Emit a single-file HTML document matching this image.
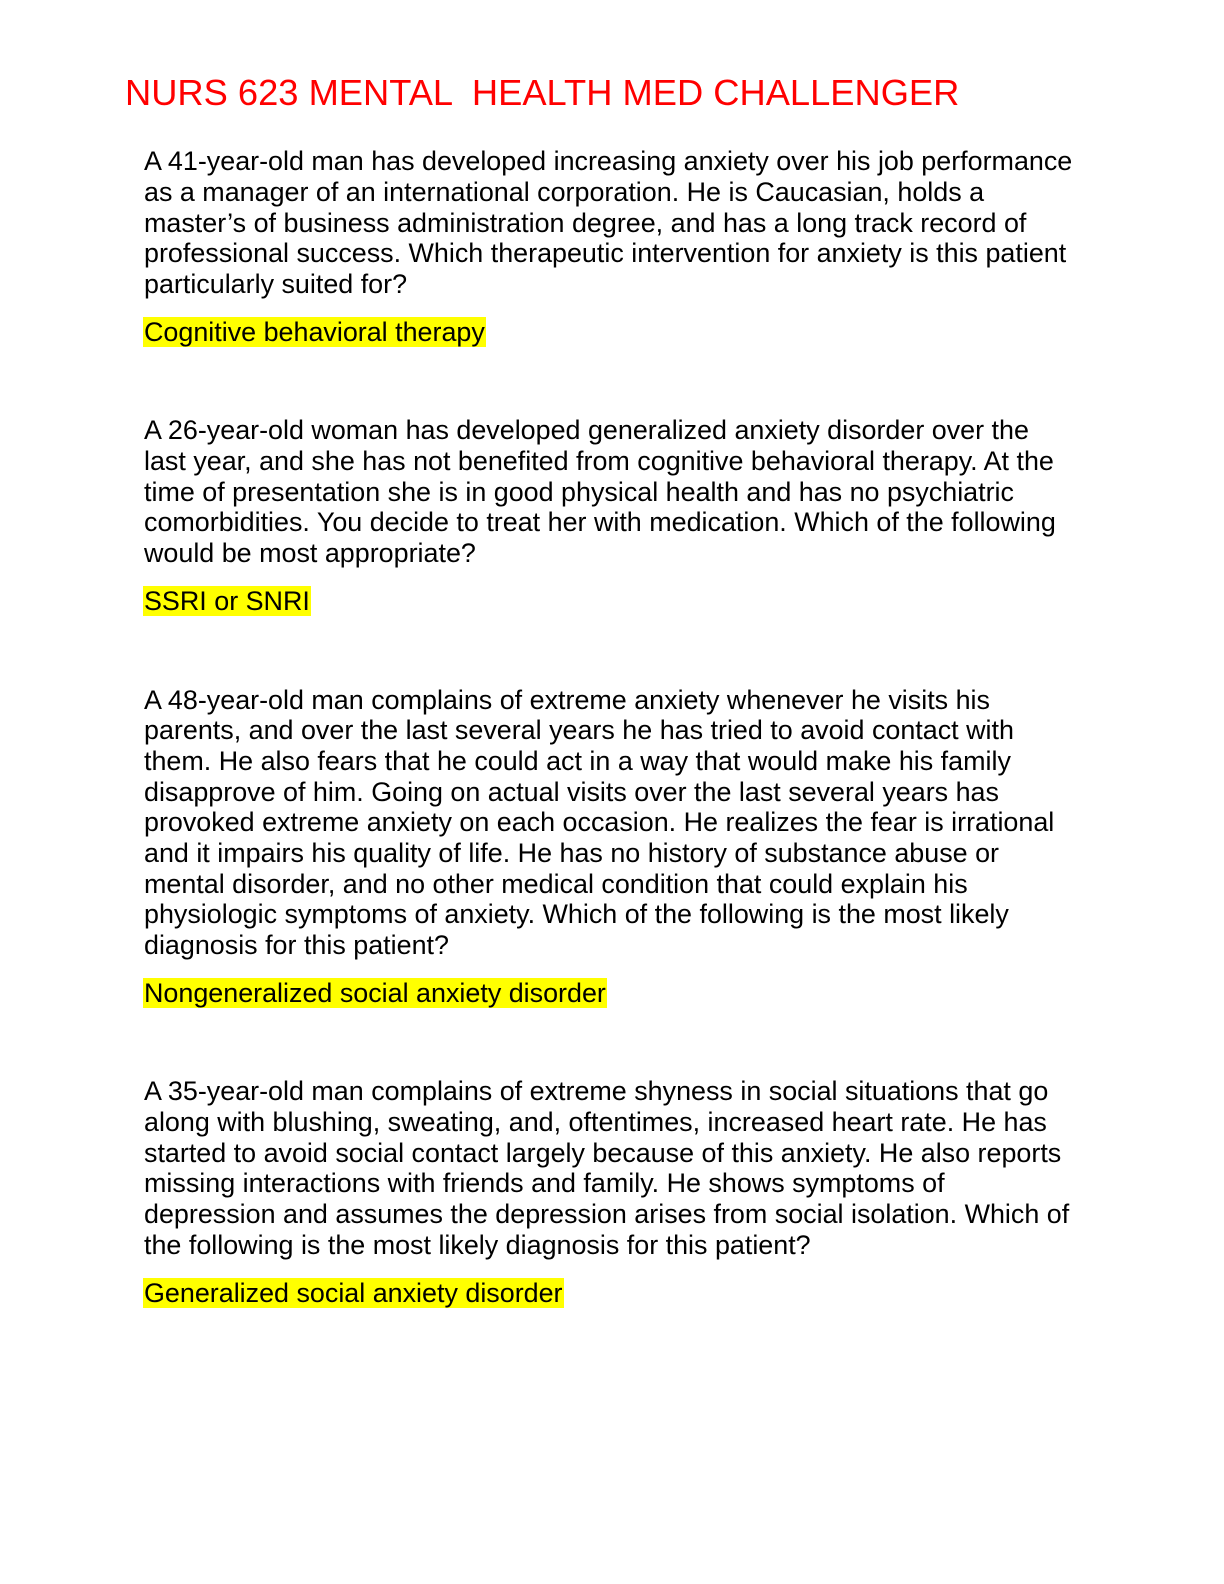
<!DOCTYPE html>
<html><head><meta charset="utf-8">
<style>
html,body{margin:0;padding:0;background:#fff;}
body{width:1224px;height:1584px;position:relative;overflow:hidden;font-family:"Liberation Sans",Arial,sans-serif;color:#000;}
.t{position:absolute;left:125px;top:72px;font-size:36.3px;line-height:42px;color:#ff0000;white-space:pre;}
.l{position:absolute;left:144px;font-size:26.9px;line-height:30px;height:30px;white-space:nowrap;}
.h{background:#ffff00;padding:0 1px;margin-left:-1px;}
</style></head><body>
<div class="t">NURS 623 MENTAL  HEALTH MED CHALLENGER</div>

<div class="l" style="top:146px">A 41-year-old man has developed increasing anxiety over his job performance</div>
<div class="l" style="top:177px">as a manager of an international corporation. He is Caucasian, holds a</div>
<div class="l" style="top:208px">master’s of business administration degree, and has a long track record of</div>
<div class="l" style="top:238px">professional success. Which therapeutic intervention for anxiety is this patient</div>
<div class="l" style="top:269px">particularly suited for?</div>
<div class="l" style="top:317px"><span class="h">Cognitive behavioral therapy</span></div>

<div class="l" style="top:415px">A 26-year-old woman has developed generalized anxiety disorder over the</div>
<div class="l" style="top:446px">last year, and she has not benefited from cognitive behavioral therapy. At the</div>
<div class="l" style="top:477px">time of presentation she is in good physical health and has no psychiatric</div>
<div class="l" style="top:507px">comorbidities. You decide to treat her with medication. Which of the following</div>
<div class="l" style="top:538px">would be most appropriate?</div>
<div class="l" style="top:586px"><span class="h">SSRI or SNRI</span></div>

<div class="l" style="top:685px">A 48-year-old man complains of extreme anxiety whenever he visits his</div>
<div class="l" style="top:715px">parents, and over the last several years he has tried to avoid contact with</div>
<div class="l" style="top:746px">them. He also fears that he could act in a way that would make his family</div>
<div class="l" style="top:777px">disapprove of him. Going on actual visits over the last several years has</div>
<div class="l" style="top:807px">provoked extreme anxiety on each occasion. He realizes the fear is irrational</div>
<div class="l" style="top:838px">and it impairs his quality of life. He has no history of substance abuse or</div>
<div class="l" style="top:869px">mental disorder, and no other medical condition that could explain his</div>
<div class="l" style="top:899px">physiologic symptoms of anxiety. Which of the following is the most likely</div>
<div class="l" style="top:930px">diagnosis for this patient?</div>
<div class="l" style="top:978px"><span class="h">Nongeneralized social anxiety disorder</span></div>

<div class="l" style="top:1076px">A 35-year-old man complains of extreme shyness in social situations that go</div>
<div class="l" style="top:1107px">along with blushing, sweating, and, oftentimes, increased heart rate. He has</div>
<div class="l" style="top:1138px">started to avoid social contact largely because of this anxiety. He also reports</div>
<div class="l" style="top:1168px">missing interactions with friends and family. He shows symptoms of</div>
<div class="l" style="top:1199px">depression and assumes the depression arises from social isolation. Which of</div>
<div class="l" style="top:1230px">the following is the most likely diagnosis for this patient?</div>
<div class="l" style="top:1278px"><span class="h">Generalized social anxiety disorder</span></div>
</body></html>
